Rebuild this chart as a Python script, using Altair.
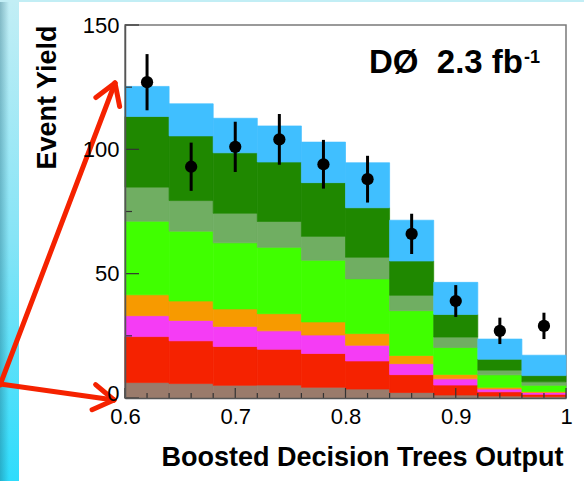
import math
import altair as alt
import pandas as pd

# ---- histogram data -------------------------------------------------------
bin_edges = [0.60, 0.64, 0.68, 0.72, 0.76, 0.80, 0.84, 0.88, 0.92, 0.96, 1.00]

# stacked predictions, bottom to top
process_names = ["Multijets", "tt \u2192 l+jets", "tt \u2192 ll", "Z+jets, dibosons",
                 "W+light", "W+cc", "W+bb", "tb+tqb"]
process_colors = ["#9A7B6B", "#F52200", "#F53CF5", "#F79A00",
                  "#40FF00", "#70AE62", "#1F8800", "#40BFFF"]
multijets = [6.2, 5.8, 5.1, 5.2, 4.3, 3.6, 2.2, 1.2, 0.8, 0.5]
ttbar_lj = [18.5, 17.2, 15.6, 14.4, 13.6, 11.3, 7.2, 4.0, 1.7, 1.0]
ttbar_ll = [8.4, 8.2, 8.1, 7.4, 7.4, 6.3, 4.4, 2.5, 1.1, 0.7]
zjets_vv = [8.4, 7.8, 7.0, 6.9, 5.3, 4.7, 3.3, 1.8, 0.7, 0.4]
w_light = [29.6, 28.1, 26.6, 26.7, 24.8, 22.0, 18.0, 10.8, 5.0, 2.5]
w_cc = [13.7, 12.3, 11.9, 10.4, 9.6, 8.7, 6.2, 4.2, 1.9, 1.4]
w_bb = [28.4, 26.0, 24.3, 23.9, 21.6, 19.9, 13.8, 9.1, 4.4, 2.5]
single_top = [12.1, 12.9, 13.9, 14.5, 16.3, 18.1, 16.4, 12.9, 8.1, 8.2]
components = [multijets, ttbar_lj, ttbar_ll, zjets_vv, w_light, w_cc, w_bb, single_top]

# observed data with statistical errors
data_counts = [127, 93, 101, 104, 94, 88, 66, 39, 27, 29]
data_errors = [11.3, 9.7, 10.1, 10.2, 9.8, 9.4, 8.1, 6.4, 5.3, 5.3]

# axis ticks
x_major = [0.6, 0.7, 0.8, 0.9, 1.0]
x_minor = [0.62, 0.64, 0.66, 0.68, 0.72, 0.74, 0.76, 0.78, 0.82, 0.84,
           0.86, 0.88, 0.92, 0.94, 0.96, 0.98]
y_major = [0, 50, 100, 150]
y_minor = [25, 75, 125]

FONT = "Liberation Sans"
W, H = 441, 373
LEFT, TOP = 125, 25

# ---- tables ---------------------------------------------------------------
rows = []
for i in range(len(bin_edges) - 1):
    cum = 0.0
    for j, name in enumerate(process_names):
        v = components[j][i]
        rows.append({"lo": bin_edges[i], "hi": bin_edges[i + 1], "process": name,
                     "y0": cum, "y1": cum + v})
        cum += v
stack_df = pd.DataFrame(rows)

centers = [(a + b) / 2 for a, b in zip(bin_edges[:-1], bin_edges[1:])]
data_df = pd.DataFrame({"x": centers, "n": data_counts, "err": data_errors})
data_df["lo"] = data_df["n"] - data_df["err"]
data_df["hi"] = data_df["n"] + data_df["err"]

xscale = alt.Scale(domain=[0.6, 1.0], nice=False, zero=False)
yscale = alt.Scale(domain=[0, 150], nice=False)
xaxis = alt.Axis(values=x_major, format="~g", ticks=False, grid=False,
                 domain=True, domainColor="#555555", domainWidth=1.5,
                 labelFont=FONT, labelFontSize=22, labelColor="#000000",
                 labelPadding=8, labelFlush=False,
                 title="Boosted Decision Trees Output", titleFont=FONT,
                 titleFontSize=27, titleFontWeight="bold", titleColor="#000000",
                 titleAlign="right", titleBaseline="alphabetic",
                 titleX=W - 3, titleY=67, zindex=1)
yaxis = alt.Axis(values=y_major, ticks=False, grid=False,
                 domain=True, domainColor="#555555", domainWidth=1.5,
                 labelFont=FONT, labelFontSize=22, labelColor="#000000",
                 labelPadding=6, labelFlush=False,
                 labelOffset={"condition": {"test": "datum.value == 0", "value": -5},
                              "value": 0},
                 title="Event Yield", titleFont=FONT, titleFontSize=27,
                 titleFontWeight="bold", titleColor="#000000",
                 titleAngle=270, titleAlign="right", titleBaseline="middle",
                 titleX=-78, titleY=0, zindex=1)


def X(field):
    return alt.X(field, type="quantitative", scale=xscale, axis=xaxis)


def Y(field):
    return alt.Y(field, type="quantitative", scale=yscale, axis=yaxis)


one = pd.DataFrame({"k": [0]})

# ---- slide backdrop: cyan band on the left and a thin one on top -----------
band = alt.Chart(one).mark_rect(
    color=alt.LinearGradient(
        gradient="linear", x1=0, x2=0, y1=0, y2=1,
        stops=[alt.GradientStop(color="#C2EEF5", offset=0),
               alt.GradientStop(color="#86E4F6", offset=0.5),
               alt.GradientStop(color="#2EDCFC", offset=1)])
).encode(x=alt.value(-LEFT), x2=alt.value(19 - LEFT),
         y=alt.value(-TOP), y2=alt.value(481 - TOP))
band_edge = alt.Chart(one).mark_rect(
    color=alt.LinearGradient(
        gradient="linear", x1=0, x2=1, y1=0, y2=0,
        stops=[alt.GradientStop(color="rgba(20,90,110,0.35)", offset=0),
               alt.GradientStop(color="rgba(20,90,110,0)", offset=1)])
).encode(x=alt.value(-LEFT), x2=alt.value(9 - LEFT),
         y=alt.value(-TOP), y2=alt.value(481 - TOP))
top_band = alt.Chart(one).mark_rect(color="#C2EEF5").encode(
    x=alt.value(-LEFT), x2=alt.value(584 - LEFT),
    y=alt.value(-TOP), y2=alt.value(2 - TOP))

# ---- stacked predictions ---------------------------------------------------
proc_scale = alt.Scale(domain=process_names, range=process_colors)
stack = alt.Chart(stack_df).mark_rect(strokeWidth=0.7).encode(
    x=X("lo"), x2="hi", y=Y("y0"), y2="y1",
    color=alt.Color("process:N", legend=None, scale=proc_scale),
    stroke=alt.Stroke("process:N", legend=None, scale=proc_scale),
)

# ---- inward-pointing ticks ------------------------------------------------
tick_color = "#333333"
yt_major = alt.Chart(pd.DataFrame({"v": y_major})).mark_rule(
    color=tick_color, strokeWidth=1.2).encode(y=Y("v"), x=alt.value(0), x2=alt.value(14))
yt_minor = alt.Chart(pd.DataFrame({"v": y_minor})).mark_rule(
    color=tick_color, strokeWidth=1.2).encode(y=Y("v"), x=alt.value(0), x2=alt.value(7))
xt_major = alt.Chart(pd.DataFrame({"v": x_major})).mark_rule(
    color=tick_color, strokeWidth=1.2).encode(x=X("v"), y=alt.value(H), y2=alt.value(H - 10))
xt_minor = alt.Chart(pd.DataFrame({"v": x_minor})).mark_rule(
    color=tick_color, strokeWidth=1.2).encode(x=X("v"), y=alt.value(H), y2=alt.value(H - 5))

# ---- observed data ---------------------------------------------------------
err = alt.Chart(data_df).mark_rule(color="#000000", strokeWidth=3).encode(
    x=X("x"), y=Y("lo"), y2="hi")
pts = alt.Chart(data_df).mark_circle(color="#000000", opacity=1, size=150).encode(
    x=X("x"), y=Y("n"))

# ---- experiment label -------------------------------------------------------
label = alt.Chart(one).mark_text(
    text="D\u00d8\u00a0 2.3 fb", font=FONT, fontSize=33, fontWeight="bold",
    align="right", baseline="alphabetic", color="#000000"
).encode(x=alt.value(523 - LEFT), y=alt.value(73 - TOP))
label_sup = alt.Chart(one).mark_text(
    text="-1", font=FONT, fontSize=18, fontWeight="bold",
    align="left", baseline="alphabetic", color="#000000"
).encode(x=alt.value(524 - LEFT), y=alt.value(63 - TOP))

# ---- red pointer arrows -----------------------------------------------------
arrow_red = "#F52200"
arrows = [((0, 385), (115, 83)), ((0, 384), (114, 400))]
segs = []
for (tx, ty), (hx, hy) in arrows:
    segs.append((tx, ty, hx, hy))
    dx, dy = tx - hx, ty - hy
    n = math.hypot(dx, dy)
    bx, by = dx / n, dy / n
    for ang in (math.radians(32), math.radians(-32)):
        rx = bx * math.cos(ang) - by * math.sin(ang)
        ry = bx * math.sin(ang) + by * math.cos(ang)
        segs.append((hx, hy, hx + 24 * rx, hy + 24 * ry))

arrow_layers = [
    alt.Chart(one).mark_rule(color=arrow_red, strokeWidth=5, strokeCap="round").encode(
        x=alt.value(x1 - LEFT), y=alt.value(y1 - TOP),
        x2=alt.value(x2 - LEFT), y2=alt.value(y2 - TOP))
    for x1, y1, x2, y2 in segs
]

chart = alt.layer(
    band, band_edge, top_band, stack,
    yt_major, yt_minor, xt_major, xt_minor,
    err, pts, label, label_sup, *arrow_layers
).properties(
    width=W, height=H,
    padding={"left": LEFT, "top": TOP, "right": 584 - LEFT - W, "bottom": 481 - TOP - H},
    autosize=alt.AutoSizeParams(type="none"),
    background="#FFFFFF",
).configure_view(stroke="#7A7A7A", strokeWidth=1.5)

chart.save("out.html", embed_options={"renderer": "svg", "actions": False})
